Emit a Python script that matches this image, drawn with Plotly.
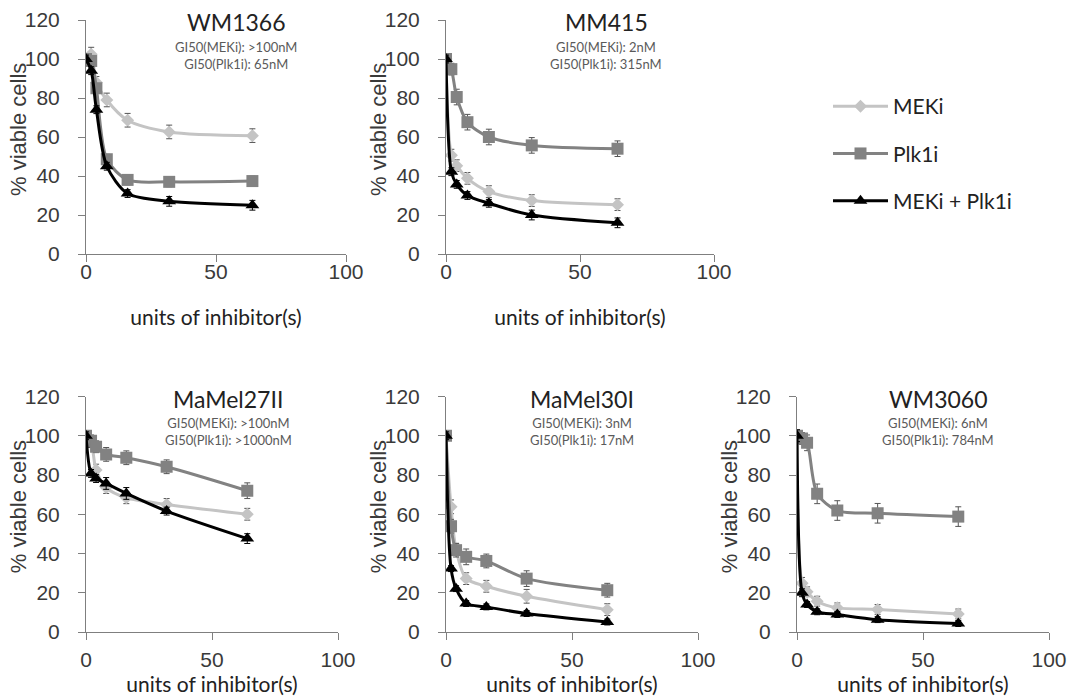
import plotly.graph_objects as go

# ---------------- data ----------------
doses = [0, 2, 4, 8, 16, 32, 64]
series_names = ["MEKi", "Plk1i", "MEKi + Plk1i"]
panel_titles = ["WM1366", "MM415", "MaMel27II", "MaMel30I", "WM3060"]
gi50_meki = [">100nM", "2nM", ">100nM", "3nM", "6nM"]
gi50_plk1i = ["65nM", "315nM", ">1000nM", "17nM", "784nM"]

wm1366_meki = [100, 102.5, 88, 79, 68.6, 62.6, 60.7]
wm1366_plk1i = [100, 99, 85, 48.6, 38, 37, 37.4]
wm1366_combo = [100, 94, 74, 45, 31, 27, 25]
wm1366_err_meki = [2, 3.5, 3, 3.5, 3.5, 3.5, 3.5]
wm1366_err_plk1i = [2, 2, 2, 2.5, 2.5, 2.5, 2.5]
wm1366_err_combo = [2, 2, 2, 2, 2, 2.5, 2.5]

mm415_meki = [100, 50.7, 45.3, 38.8, 32, 27.4, 25.3]
mm415_plk1i = [100, 94.8, 80.5, 67.6, 60, 55.7, 54]
mm415_combo = [100, 42.2, 35.7, 30, 26, 20, 16]
mm415_err_meki = [2, 3, 3, 3, 3, 3, 3]
mm415_err_plk1i = [2, 3, 4, 4, 4, 4, 4]
mm415_err_combo = [2, 2, 2, 2, 2, 2.5, 2.5]

mamel27_meki = [100, 97, 82.5, 73.6, 68.4, 65, 60]
mamel27_plk1i = [100, 97.4, 94.4, 90.5, 88.8, 84.2, 72]
mamel27_combo = [100, 80.8, 78.2, 75.7, 70.6, 61.6, 47.6]
mamel27_err_meki = [2, 3, 3, 3, 3, 3, 3]
mamel27_err_plk1i = [2, 3, 3, 3.5, 3.5, 3.5, 4]
mamel27_err_combo = [2, 2, 2, 3, 3, 2, 2.5]

mamel30_meki = [100, 63.8, 42, 27.2, 23.3, 18.2, 11.4]
mamel30_plk1i = [100, 53.9, 41.7, 38.3, 36.2, 27.2, 21.3]
mamel30_combo = [100, 32.3, 22.1, 14.5, 12.8, 9.4, 5.1]
mamel30_err_meki = [2, 3.5, 3, 3, 3, 3.5, 3]
mamel30_err_plk1i = [2, 3.5, 3.5, 4, 3.5, 4, 3.5]
mamel30_err_combo = [2, 1.5, 1.5, 1.5, 1.5, 1.5, 1.5]

wm3060_meki = [100, 24.8, 20.5, 15.7, 12.3, 11.5, 9.2]
wm3060_plk1i = [100, 98.6, 96.4, 70.4, 61.9, 60.5, 58.8]
wm3060_combo = [100, 20, 14, 10.3, 8.9, 6.3, 4.3]
wm3060_err_meki = [3, 3, 2.5, 2.5, 2.5, 2.5, 2.5]
wm3060_err_plk1i = [3, 3, 4, 5, 5, 5, 5]
wm3060_err_combo = [3, 2, 1.5, 1.5, 1.5, 1.5, 1.5]

panels = [
    (wm1366_meki, wm1366_plk1i, wm1366_combo, wm1366_err_meki, wm1366_err_plk1i, wm1366_err_combo),
    (mm415_meki, mm415_plk1i, mm415_combo, mm415_err_meki, mm415_err_plk1i, mm415_err_combo),
    (mamel27_meki, mamel27_plk1i, mamel27_combo, mamel27_err_meki, mamel27_err_plk1i, mamel27_err_combo),
    (mamel30_meki, mamel30_plk1i, mamel30_combo, mamel30_err_meki, mamel30_err_plk1i, mamel30_err_combo),
    (wm3060_meki, wm3060_plk1i, wm3060_combo, wm3060_err_meki, wm3060_err_plk1i, wm3060_err_combo),
]

# ---------------- styles ----------------
W, H = 1069, 696
colors = ["#c4c4c4", "#828282", "#000000"]
symbols = ["diamond", "square", "triangle-up"]
msizes = [10, 12, 12]
err_colors = ["#555555", "#555555", "#000000"]
AX = "#7f7f7f"
TICKFONT = dict(family="Liberation Sans, Arial", size=21, color="#3a3a3a")
CAL = "Lato, Open Sans, sans-serif"

# reference pixel boxes: (x0, x1) for x=0..100 ; (ytop, ybottom) for y=120..0
xboxes = [(86, 346), (446, 714), (86, 338), (446, 698), (797, 1049)]
ytop_row = (20, 254)
ybot_row = (396.5, 632)
yboxes = [ytop_row, ytop_row, ybot_row, ybot_row, ybot_row]
title_cx = [236, 606, 228, 582, 938]


def px(v):
    return v / W


def py(v):
    return 1 - v / H


fig = go.Figure()
for i, data in enumerate(panels):
    ax = "" if i == 0 else str(i + 1)
    vals = data[:3]
    errs = data[3:]
    for s in range(3):
        fig.add_trace(go.Scatter(
            x=doses, y=vals[s], name=series_names[s],
            mode="lines+markers",
            line=dict(color=colors[s], width=3, shape="spline", smoothing=0.8),
            marker=dict(symbol=symbols[s], size=msizes[s], color=colors[s]),
            error_y=dict(type="data", array=errs[s], color=err_colors[s], thickness=1, width=3),
            xaxis="x" + ax, yaxis="y" + ax,
            legendgroup=series_names[s], showlegend=(i == 0),
        ))
    x0, x1 = xboxes[i]
    yt, yb = yboxes[i]
    top = i < 2
    fig.layout["xaxis" + ax] = dict(
        domain=[px(x0), px(x1)], range=[0, 100], tickvals=[0, 50, 100],
        showline=True, linecolor=AX, linewidth=1, ticks="outside", ticklen=7, tickcolor=AX,
        showgrid=False, zeroline=False, tickfont=TICKFONT, anchor="y" + ax,
        automargin=False, ticklabelstandoff=-8 if top else 2,
        title=dict(text="units of inhibitor(s)", font=dict(family=CAL, size=21, color="#222"),
                   standoff=28 if top else 18),
        fixedrange=True,
    )
    fig.layout["yaxis" + ax] = dict(
        domain=[py(yb), py(yt)], range=[0, 120], tickvals=[0, 20, 40, 60, 80, 100, 120],
        showline=True, linecolor=AX, linewidth=1, ticks="outside", ticklen=7, tickcolor=AX,
        showgrid=False, zeroline=False, tickfont=TICKFONT, anchor="x" + ax,
        automargin=False, ticklabelstandoff=14,
        fixedrange=True,
    )
    # y-axis title (placed as rotated text beside the axis)
    fig.add_annotation(x=px(x0 - 68), y=py((yt + yb) / 2 - 7), xref="paper", yref="paper",
                       text="% viable cells", textangle=-90, showarrow=False,
                       xanchor="center", yanchor="middle",
                       font=dict(family="Liberation Sans, Arial", size=22, color="#3a3a3a"))
    fig.add_annotation(x=px(title_cx[i]), y=py(yt + 2), xref="paper", yref="paper",
                       text=panel_titles[i], showarrow=False, xanchor="center", yanchor="middle",
                       font=dict(family=CAL, size=23, color="#222"))
    fig.add_annotation(x=px(title_cx[i]), y=py(yt + 35), xref="paper", yref="paper",
                       text=f"GI50(MEKi): {gi50_meki[i]}<br>GI50(Plk1i): {gi50_plk1i[i]}",
                       showarrow=False, xanchor="center", yanchor="middle", align="center",
                       font=dict(family=CAL, size=13, color="#5a5a5a"))

fig.update_layout(
    width=W, height=H, margin=dict(l=0, r=0, t=0, b=0),
    paper_bgcolor="white", plot_bgcolor="white",
    legend=dict(x=px(828), y=py(86), xanchor="left", yanchor="top",
                font=dict(family=CAL, size=21, color="#222"), tracegroupgap=17,
                itemwidth=55, bgcolor="rgba(0,0,0,0)"),
    showlegend=True,
)

fig.write_html("out.html", config={"displayModeBar": False},
               post_script="document.body.style.margin='0';document.body.style.overflow='hidden';")
